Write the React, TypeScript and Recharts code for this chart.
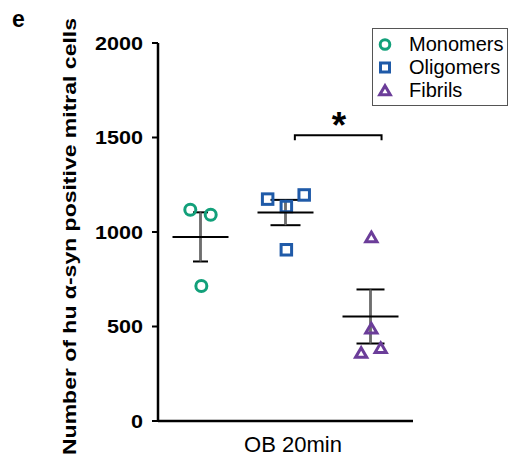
import React from 'react'
import { ScatterChart, Scatter, XAxis, YAxis, ErrorBar, Legend, Label } from 'recharts'

const FONT = '"Liberation Sans", Arial, Helvetica, sans-serif'

const groupNames = ['Monomers', 'Oligomers', 'Fibrils']
const groupColors = ['#12a07a', '#1f5aa8', '#6b3d99']

// x = slot inside the single "OB 20min" category (group centre +/- jitter)
const monomerX = [0.38, 0.62, 0.51]
const monomerY = [1118, 1091, 714]
const oligomerX = [1.29, 1.72, 1.51, 1.51]
const oligomerY = [1174, 1196, 1135, 906]
const fibrilX = [2.51, 2.51, 2.39, 2.62]
const fibrilY = [973, 490, 361, 387]

const groupCenters = [0.5, 1.5, 2.5]
const groupMeans = [974, 1103, 553]
const groupSems = [130, 67, 143]

const yTicks = [0, 500, 1000, 1500, 2000]

// significance bracket between oligomers and fibrils
const bracketX = [1.61, 1.61, 2.63, 2.63]
const bracketY = [1486, 1512, 1512, 1486]
const starX = [2.13]
const starY = [1610]

const toPoints = (xs: number[], ys: number[]) => xs.map((x, i) => ({ x, y: ys[i] }))

const monomers = toPoints(monomerX, monomerY)
const oligomers = toPoints(oligomerX, oligomerY)
const fibrils = toPoints(fibrilX, fibrilY)
const meanRows = groupCenters.map((x, i) => [{ x, y: groupMeans[i], sem: groupSems[i] }])
const bracket = toPoints(bracketX, bracketY)
const star = toPoints(starX, starY)

const capHalf = [7.5, 15, 14]

const CircleMark = ({ cx, cy, color, r = 5.5 }: any) => (
  <circle cx={cx} cy={cy} r={r} fill="none" stroke={color} strokeWidth={3} />
)

const SquareMark = ({ cx, cy, color, s = 10.5 }: any) => (
  <rect x={cx - s / 2} y={cy - s / 2} width={s} height={s} fill="none" stroke={color} strokeWidth={3} />
)

const TriangleMark = ({ cx, cy, color, k = 1 }: any) => (
  <path
    d={`M${cx},${cy - 5 * k} L${cx + 5.6 * k},${cy + 4.6 * k} L${cx - 5.6 * k},${cy + 4.6 * k} Z`}
    fill="none"
    stroke={color}
    strokeWidth={3}
    strokeLinejoin="miter"
  />
)

const markers = [CircleMark, SquareMark, TriangleMark]

const MeanLine = ({ cx, cy }: any) => (
  <line x1={cx - 28} x2={cx + 28} y1={cy} y2={cy} stroke="#000" strokeWidth={2} />
)

const YTick = ({ x, y, payload }: any) => {
  const s = String(payload.value)
  return (
    <text
      x={x}
      y={y}
      dy="0.36em"
      textAnchor="end"
      fontFamily={FONT}
      fontWeight="bold"
      fontSize={19}
      textLength={s.length * 12}
      lengthAdjust="spacingAndGlyphs"
      fill="#000"
    >
      {s}
    </text>
  )
}

const LegendBox = () => (
  <div
    style={{
      width: 136,
      height: 78,
      boxSizing: 'border-box',
      border: '1px solid #555',
      background: '#fff',
      paddingTop: 4,
      fontFamily: FONT,
      fontSize: 20,
      color: '#000'
    }}
  >
    {groupNames.map((name, i) => {
      const Mark = markers[i]
      return (
        <div key={name} style={{ position: 'relative', height: 23, lineHeight: '23px' }}>
          <svg width={20} height={23} style={{ position: 'absolute', left: 2, top: 0 }}>
            <Mark cx={10} cy={11.5} color={groupColors[i]} r={4.8} s={9} k={0.95} />
          </svg>
          <span style={{ position: 'absolute', left: 36, top: 0, whiteSpace: 'nowrap' }}>{name}</span>
        </div>
      )
    })}
  </div>
)

export default function App() {
  return (
    <div style={{ position: 'absolute', left: 0, top: 0, width: 510, height: 457, background: '#fff' }}>
      <ScatterChart width={510} height={457} margin={{ top: 43, right: 97, bottom: 0, left: 0 }}>
        <text x={12} y={27} fontFamily={FONT} fontWeight="bold" fontSize={23} fill="#000">
          e
        </text>
        <XAxis
          type="number"
          dataKey="x"
          domain={[0, 3]}
          tick={false}
          tickLine={false}
          height={36}
          axisLine={{ stroke: '#000', strokeWidth: 2.5 }}
          label={
            <Label
              content={() => (
                <text x={293} y={452} textAnchor="middle" fontFamily={FONT} fontSize={22} fill="#000">
                  OB 20min
                </text>
              )}
            />
          }
        />
        <YAxis
          type="number"
          dataKey="y"
          domain={[0, 2000]}
          ticks={yTicks}
          width={158}
          tickSize={6}
          tickMargin={9}
          tick={<YTick />}
          tickLine={{ stroke: '#000', strokeWidth: 2 }}
          axisLine={{ stroke: '#000', strokeWidth: 2.5 }}
          label={
            <Label
              content={() => (
                <text
                  x={76}
                  y={236.5}
                  transform="rotate(-90 76 236.5)"
                  textAnchor="middle"
                  fontFamily={FONT}
                  fontWeight="bold"
                  fontSize={19}
                  textLength={437}
                  lengthAdjust="spacingAndGlyphs"
                  fill="#000"
                >
                  Number of hu α-syn positive mitral cells
                </text>
              )}
            />
          }
        />
        <Legend
          layout="horizontal"
          verticalAlign="middle"
          align="center"
          wrapperStyle={{ top: 28, left: 372, width: 136, height: 78 }}
          content={() => <LegendBox />}
        />
        <Scatter
          name="Monomers"
          data={monomers}
          isAnimationActive={false}
          shape={(p: any) => <CircleMark cx={p.cx} cy={p.cy} color={groupColors[0]} />}
        />
        <Scatter
          name="Oligomers"
          data={oligomers}
          isAnimationActive={false}
          shape={(p: any) => <SquareMark cx={p.cx} cy={p.cy} color={groupColors[1]} />}
        />
        <Scatter
          name="Fibrils"
          data={fibrils}
          isAnimationActive={false}
          shape={(p: any) => <TriangleMark cx={p.cx} cy={p.cy} color={groupColors[2]} />}
        />
        {meanRows.map((row, i) => (
          <Scatter
            key={`mean-${i}`}
            data={row}
            isAnimationActive={false}
            legendType="none"
            shape={(p: any) => <MeanLine cx={p.cx} cy={p.cy} />}
          >
            <ErrorBar dataKey="sem" direction="y" width={capHalf[i]} stroke="#000" strokeWidth={2} isAnimationActive={false} />
            <ErrorBar dataKey="sem" direction="y" width={0} stroke="#6e6e6e" strokeWidth={2} isAnimationActive={false} />
          </Scatter>
        ))}
        <Scatter
          data={bracket}
          isAnimationActive={false}
          legendType="none"
          line={{ stroke: '#000', strokeWidth: 2 }}
          lineType="joint"
          shape={() => <g />}
        />
        <Scatter
          data={star}
          isAnimationActive={false}
          legendType="none"
          shape={(p: any) => (
            <text x={p.cx} y={p.cy + 21} textAnchor="middle" fontFamily={FONT} fontWeight="bold" fontSize={37} fill="#000">
              *
            </text>
          )}
        />
      </ScatterChart>
    </div>
  )
}
